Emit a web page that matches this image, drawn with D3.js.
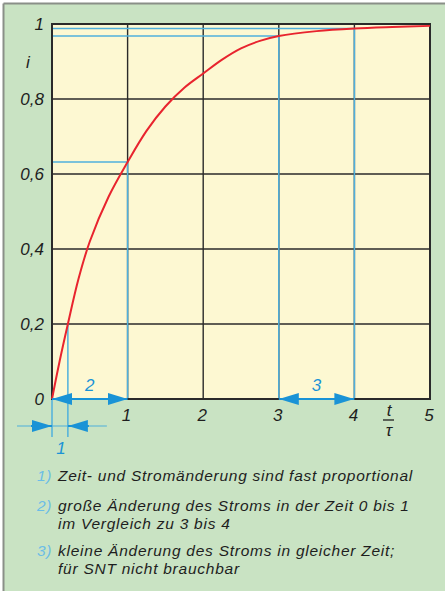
<!DOCTYPE html>
<html>
<head>
<meta charset="utf-8">
<script src="https://cdn.jsdelivr.net/npm/d3@7"></script>
<style>
  html, body { margin: 0; padding: 0; background: #fff; }
  svg { display: block; }
  text { font-family: "Liberation Sans", Arial, sans-serif; font-style: italic; }
</style>
</head>
<body>
<svg id="chart" width="445" height="591"></svg>
<script>
// Normalised time t/τ and current i of the charging curve
const tValues = [0, 0.1, 0.21, 0.35, 0.5, 0.75, 1, 1.25, 1.5, 1.75, 2, 2.25, 2.5, 2.75, 3, 3.5, 4, 4.5, 5];
const iValues = [0, 0.1, 0.2, 0.32, 0.42, 0.54, 0.632, 0.715, 0.78, 0.83, 0.868, 0.905, 0.935, 0.955, 0.968, 0.981, 0.988, 0.992, 0.995];

const xTicks = [0, 1, 2, 3, 4, 5];
const yTicks = [0, 0.2, 0.4, 0.6, 0.8, 1];

// Reference levels: current reached after 1τ, 3τ and 4τ
const markT = [1, 3, 4];
const markI = [0.632, 0.968, 0.988];

// Short interval at the start of the curve (annotation 1)
const startInterval = [0, 0.21];
const startLevel = 0.2;

// Interval arrows with their numbers
const spans = [
  { from: 0, to: 1, label: "2" },
  { from: 3, to: 4, label: "3" }
];

// Notes below the chart
const notes = [
  { mark: "1)", lines: ["Zeit- und Stromänderung sind fast proportional"] },
  { mark: "2)", lines: ["große Änderung des Stroms in der Zeit 0 bis 1", "im Vergleich zu 3 bis 4"] },
  { mark: "3)", lines: ["kleine Änderung des Stroms in gleicher Zeit;", "für SNT nicht brauchbar"] }
];

const svg = d3.select("#chart");
const W = 445, H = 591;

const cBg = "#c9e3c3", cPlot = "#fdf8d2", cGrid = "#2a2a2a",
      cBlue = "#4fb0dc", cArrow = "#1a93d6", cRed = "#e8242e", cText = "#1e1e1e";

// Panel background and frame
svg.append("rect").attr("x", 0).attr("y", 0).attr("width", W).attr("height", H).attr("fill", "#fff");
svg.append("rect").attr("x", 4).attr("y", 4).attr("width", W - 4).attr("height", H - 4).attr("fill", cBg);
svg.append("line").attr("x1", 3.5).attr("x2", W).attr("y1", 3.5).attr("y2", 3.5).attr("stroke", "#8a8f88").attr("stroke-width", 2);
svg.append("line").attr("x1", 3.5).attr("x2", 3.5).attr("y1", 3.5).attr("y2", H).attr("stroke", "#8a8f88").attr("stroke-width", 2);

const x = d3.scaleLinear().domain([0, 5]).range([52, 430]);
const y = d3.scaleLinear().domain([0, 1]).range([399, 24]);

const de = d3.formatLocale({ decimal: ",", thousands: ".", grouping: [3], currency: ["", " €"] });
const fmt = v => v === 0 || v === 1 ? String(v) : de.format(".1f")(v);

// Plot area
svg.append("rect")
  .attr("x", x(0)).attr("y", y(1))
  .attr("width", x(5) - x(0)).attr("height", y(0) - y(1))
  .attr("fill", cPlot);

// Grid
const g = svg.append("g");
g.selectAll(".vg").data(xTicks.slice(1, -1)).join("line")
  .attr("x1", d => x(d)).attr("x2", d => x(d))
  .attr("y1", y(0)).attr("y2", y(1))
  .attr("stroke", cGrid).attr("stroke-width", 1.4);
g.selectAll(".hg").data(yTicks.slice(1, -1)).join("line")
  .attr("x1", x(0)).attr("x2", x(5))
  .attr("y1", d => y(d)).attr("y2", d => y(d))
  .attr("stroke", cGrid).attr("stroke-width", 1.4);

// Blue guide lines
const guides = svg.append("g").attr("stroke", cBlue).attr("stroke-width", 1.5).attr("fill", "none");
markT.forEach((t, k) => {
  guides.append("line").attr("x1", x(0)).attr("x2", x(t)).attr("y1", y(markI[k])).attr("y2", y(markI[k]));
  guides.append("line").attr("x1", x(t)).attr("x2", x(t)).attr("y1", y(markI[k])).attr("y2", y(0));
});
guides.append("line").attr("x1", x(startInterval[1])).attr("x2", x(startInterval[1]))
  .attr("y1", y(startLevel)).attr("y2", y(0) + 38);
guides.append("line").attr("x1", x(startInterval[0])).attr("x2", x(startInterval[0]))
  .attr("y1", y(0)).attr("y2", y(0) + 38);

// Plot border
svg.append("rect")
  .attr("x", x(0)).attr("y", y(1))
  .attr("width", x(5) - x(0)).attr("height", y(0) - y(1))
  .attr("fill", "none").attr("stroke", cGrid).attr("stroke-width", 2);

// Curve
const line = d3.line().x(d => x(d[0])).y(d => y(d[1])).curve(d3.curveCatmullRom.alpha(0.5));
svg.append("path")
  .datum(tValues.map((t, k) => [t, iValues[k]]))
  .attr("d", line)
  .attr("fill", "none").attr("stroke", cRed).attr("stroke-width", 2);

// Arrow heads
const defs = svg.append("defs");
defs.append("marker")
  .attr("id", "head").attr("viewBox", "0 0 20 12")
  .attr("refX", 20).attr("refY", 6)
  .attr("markerWidth", 20).attr("markerHeight", 12)
  .attr("markerUnits", "userSpaceOnUse")
  .attr("orient", "auto-start-reverse")
  .append("path").attr("d", "M0,0 L20,6 L0,12 Z").attr("fill", cArrow);

const arrows = svg.append("g");
spans.forEach(s => {
  arrows.append("line")
    .attr("x1", x(s.from)).attr("x2", x(s.to)).attr("y1", y(0)).attr("y2", y(0))
    .attr("stroke", cArrow).attr("stroke-width", 2)
    .attr("marker-start", "url(#head)").attr("marker-end", "url(#head)");
  arrows.append("text")
    .attr("x", (x(s.from) + x(s.to)) / 2).attr("y", y(0) - 8)
    .attr("text-anchor", "middle").attr("font-size", 17).attr("fill", cArrow)
    .text(s.label);
});

// Interval 1: dimension arrows pointing inwards from outside
const dimY = y(0) + 27;
const xa = x(startInterval[0]), xb = x(startInterval[1]);
arrows.append("line").attr("x1", xa - 35).attr("x2", xb + 39).attr("y1", dimY).attr("y2", dimY)
  .attr("stroke", cBlue).attr("stroke-width", 1.2);
arrows.append("line").attr("x1", xa - 21).attr("x2", xa).attr("y1", dimY).attr("y2", dimY)
  .attr("stroke", cArrow).attr("stroke-width", 2).attr("marker-end", "url(#head)");
arrows.append("line").attr("x1", xb + 21).attr("x2", xb).attr("y1", dimY).attr("y2", dimY)
  .attr("stroke", cArrow).attr("stroke-width", 2).attr("marker-end", "url(#head)");
arrows.append("text")
  .attr("x", (xa + xb) / 2 + 1).attr("y", dimY + 28)
  .attr("text-anchor", "middle").attr("font-size", 17).attr("fill", cArrow)
  .text("1");

// Axis labels
const labels = svg.append("g").attr("fill", cText).attr("font-size", 17);
labels.selectAll(".yl").data(yTicks).join("text")
  .attr("x", 44).attr("y", d => y(d) + 6)
  .attr("text-anchor", "end")
  .text(fmt);
labels.selectAll(".xl").data(xTicks.slice(1)).join("text")
  .attr("x", d => x(d) - 1).attr("y", y(0) + 22)
  .attr("text-anchor", "middle")
  .text(d => d);
labels.append("text").attr("x", 28).attr("y", 68).attr("text-anchor", "middle").text("i");
labels.append("text").attr("x", 389).attr("y", y(0) + 17).attr("text-anchor", "middle").text("t");
labels.append("line").attr("x1", 383).attr("x2", 394).attr("y1", y(0) + 21).attr("y2", y(0) + 21)
  .attr("stroke", cText).attr("stroke-width", 1.3);
labels.append("text").attr("x", 389).attr("y", y(0) + 37).attr("text-anchor", "middle").text("τ");

// Notes
const noteBase = [481, 511, 556];
const lineGap = 18;
const ng = svg.append("g").attr("font-size", 15.5).attr("letter-spacing", 0.75);
notes.forEach((n, k) => {
  ng.append("text").attr("x", 37).attr("y", noteBase[k]).attr("fill", "#6cbde6").text(n.mark);
  n.lines.forEach((ln, j) => {
    ng.append("text").attr("x", 58).attr("y", noteBase[k] + j * lineGap).attr("fill", cText).text(ln);
  });
});
</script>
</body>
</html>
